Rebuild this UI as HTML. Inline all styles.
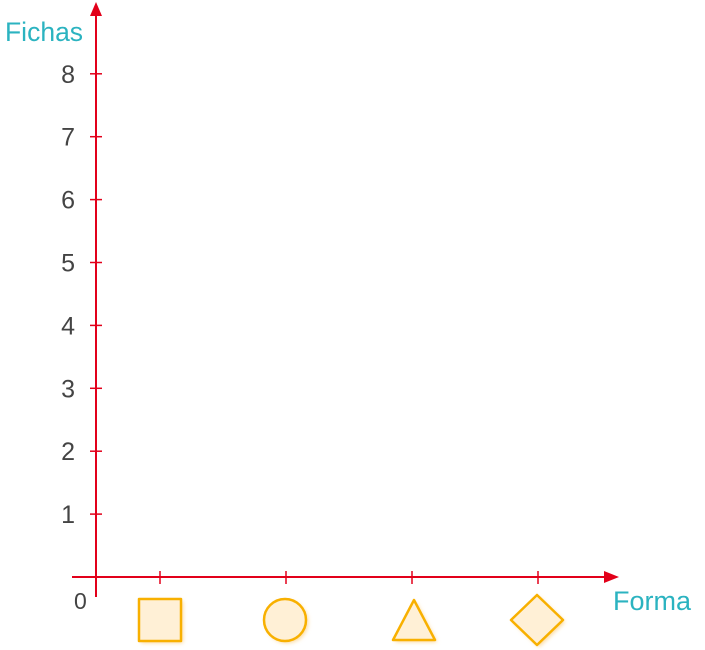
<!DOCTYPE html>
<html><head><meta charset="utf-8"><style>
body{margin:0;background:#fff;}
svg{display:block;font-family:"Liberation Sans",sans-serif;}
</style></head><body>
<svg id="chart" width="705" height="650" viewBox="0 0 705 650">
<defs><filter id="glow" x="-30%" y="-30%" width="160%" height="160%"><feGaussianBlur stdDeviation="2"/></filter></defs>
<g id="axes"></g>
<text x="5" y="41" font-size="26.5" fill="#2bb3c0">Fichas</text>
<text x="613" y="610" font-size="27" fill="#2bb3c0">Forma</text>
<text x="74" y="609" font-size="23" fill="#444" font-weight="300">0</text>
</svg>
<script>
const yTicks=[1,2,3,4,5,6,7,8];
const categories=["cuadrado","circulo","triangulo","rombo"];
const values=[0,0,0,0];
const svg=document.getElementById('chart');
const g=document.getElementById('axes');
const NS='http://www.w3.org/2000/svg';
const y0=577,yStep=62.9,x0=160,xStep=126;
function yScale(v){return y0-v*yStep;}
function xScale(i){return x0+i*xStep;}
function mk(t,a){const e=document.createElementNS(NS,t);for(const k in a)e.setAttribute(k,a[k]);return e;}
const red='#e2001a';
let e=mk('line',{x1:96,y1:597,x2:96,y2:12,stroke:red,'stroke-width':2});


g.appendChild(e);
e=mk('polygon',{points:'96,2 90,16 102,16',fill:red});


g.appendChild(e);
e=mk('line',{x1:72,y1:577,x2:606,y2:577,stroke:red,'stroke-width':2});


g.appendChild(e);
e=mk('polygon',{points:'619,577 604,571 604,583',fill:red});


g.appendChild(e);
yTicks.forEach(v=>{
 const y=yScale(v);
 let t=mk('line',{x1:90,y1:y,x2:102,y2:y,stroke:red,'stroke-width':1.5});
 
 
 g.appendChild(t);
 let l=mk('text',{x:75,y:y+9,'font-size':25,fill:'#444','font-weight':300,'text-anchor':'end'});
 l.textContent=v;
 
 
 g.appendChild(l);
});
const or='#f8b000',fillc='#fff0d6';
categories.forEach((c,i)=>{
 const x=xScale(i);
 let t=mk('line',{x1:x,y1:571,x2:x,y2:584,stroke:red,'stroke-width':1.5});
 
 
 g.appendChild(t);
 let s;
 if(c==='cuadrado') s=mk('rect',{x:x-21,y:599,width:42,height:42});
 else if(c==='circulo') s=mk('circle',{cx:x-1,cy:620,r:21});
 else if(c==='triangulo') s=mk('polygon',{points:`${x+2},600 ${x+23},640 ${x-19},640`});
 else s=mk('polygon',{points:`${x-1},595 ${x+25},620 ${x-1},645 ${x-27},620`});
 const glow=s.cloneNode();
 glow.setAttribute('fill','#fbd89a');glow.setAttribute('filter','url(#glow)');glow.setAttribute('transform','translate(2,2)');
 
 
 g.appendChild(glow);
 s.setAttribute('fill',fillc);s.setAttribute('stroke',or);s.setAttribute('stroke-width',2.5);s.setAttribute('stroke-linejoin','round');
 
 
 g.appendChild(s);
 if(values[i]>0){
  let b=mk('rect',{x:x-20,y:yScale(values[i]),width:40,height:y0-yScale(values[i]),fill:or});
  
  
  g.appendChild(b);
 }
});
</script>
</body></html>
